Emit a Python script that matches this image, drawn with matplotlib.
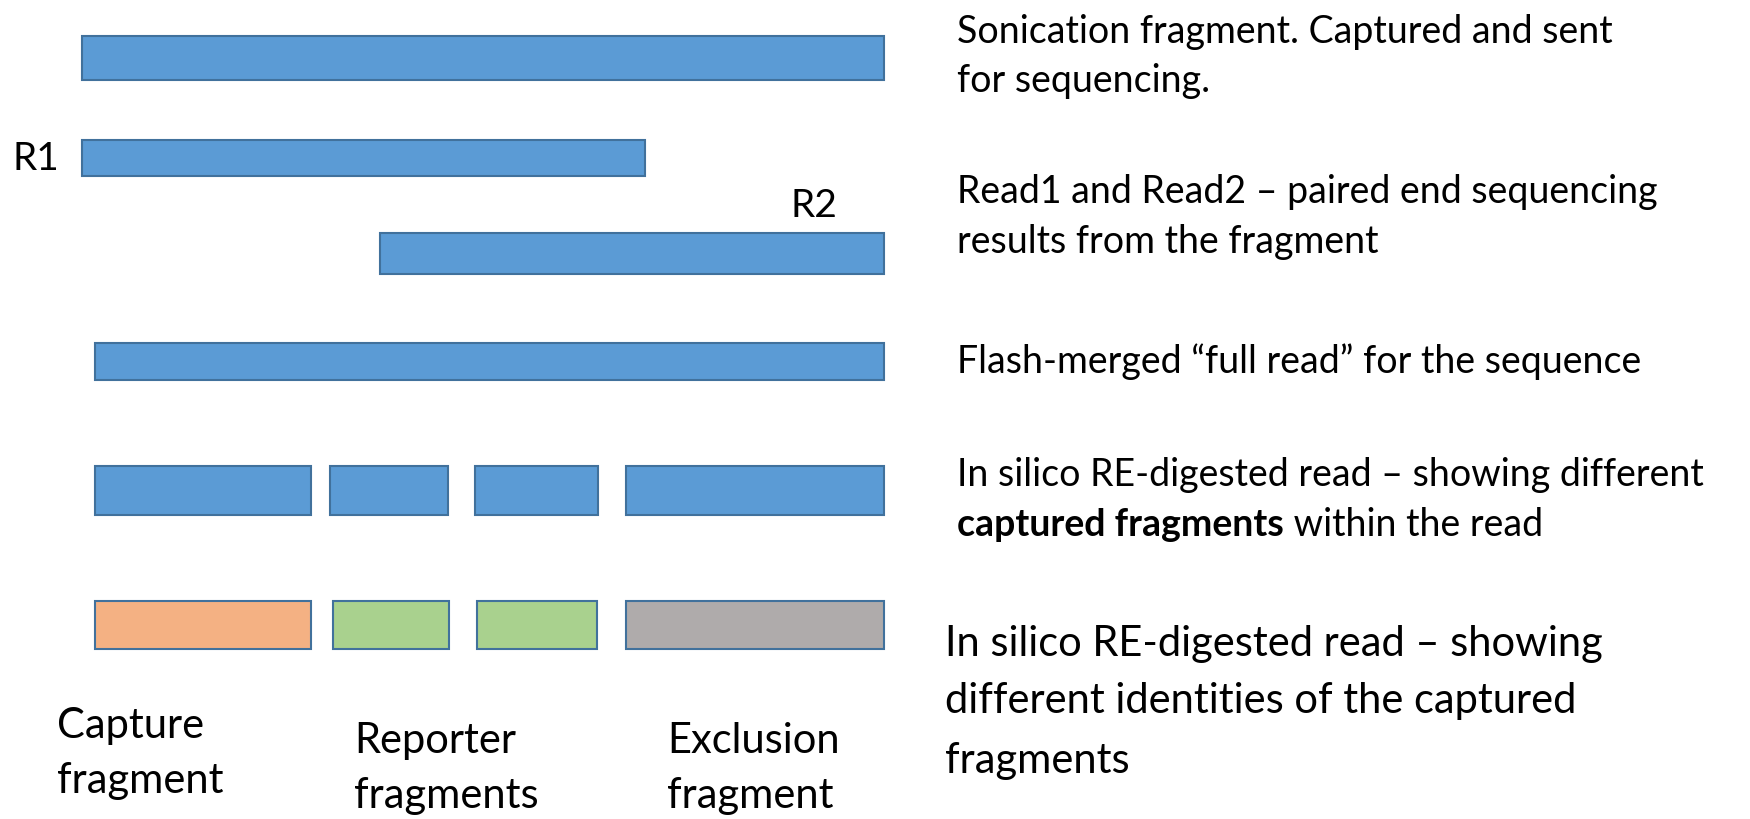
import matplotlib
matplotlib.use("Agg")
from matplotlib import pyplot as plt

plt.rcParams['font.family'] = ['Lato', 'DejaVu Sans']

# bars as (row top, row height, left, width), in picture pixels
row_tops = [36, 140, 233, 343, 466, 601]
row_heights = [44, 36, 41, 37, 49, 48]
row_segments = [
    [(82, 802)],
    [(82, 563)],
    [(380, 504)],
    [(95, 789)],
    [(95, 216), (330, 118), (475, 123), (626, 258)],
    [(95, 216), (333, 116), (477, 120), (626, 258)],
]
blue = '#5B9BD5'
row_colors = [
    [blue], [blue], [blue], [blue],
    [blue, blue, blue, blue],
    ['#F4B183', '#A9D18E', '#A9D18E', '#AFABAB'],
]
edge = '#41719C'

# labels under the last row
frag_labels = ['Capture\nfragment', 'Reporter\nfragments', 'Exclusion\nfragment']
frag_label_x = [57, 354, 667]
frag_label_y = [738, 753, 753]

# descriptions on the right (line baselines)
notes = [
    ('Sonication fragment. Captured and sent', 43),
    ('for sequencing.', 92),
    ('Read1 and Read2 \u2013 paired end sequencing', 203),
    ('results from the fragment', 253),
    ('Flash-merged \u201cfull read\u201d for the sequence', 373),
    ('In silico RE-digested read \u2013 showing different', 486),
]
big_note = ['In silico RE-digested read \u2013 showing',
            'different identities of the captured',
            'fragments']
big_note_y = [656, 713, 773]

fig = plt.figure(figsize=(17.5, 8.19), dpi=100)
ax = fig.add_axes([0, 0, 1, 1])
ax.set_xlim(0, 1750)
ax.set_ylim(819, 0)
ax.axis('off')

for top, h, segs, cols in zip(row_tops, row_heights, row_segments, row_colors):
    for (left, w), c in zip(segs, cols):
        ax.barh(top + h / 2, w, left=left, height=h, color=c,
                edgecolor=edge, linewidth=1.5)

ax.text(12, 170, 'R1', fontsize=28, va='baseline')
ax.text(790, 217, 'R2', fontsize=28, va='baseline')

for lab, x, y in zip(frag_labels, frag_label_x, frag_label_y):
    ax.text(x, y, lab.split('\n')[0], fontsize=30, va='baseline')
    ax.text(x, y + 55, lab.split('\n')[1], fontsize=30, va='baseline')

for s, y in notes:
    ax.text(957, y, s, fontsize=27, va='baseline')

# bold words then the rest of the line
r = fig.canvas.get_renderer()
t = ax.text(957, 536, 'captured fragments', fontsize=27, va='baseline',
            fontweight='bold')
bb = t.get_window_extent(renderer=r)
x_end = ax.transData.inverted().transform((bb.x1, bb.y0))[0]
ax.text(x_end, 536, ' within the read', fontsize=27, va='baseline')

for s, y in zip(big_note, big_note_y):
    ax.text(945, y, s, fontsize=30, va='baseline')

fig.savefig('out.png', dpi=100)
